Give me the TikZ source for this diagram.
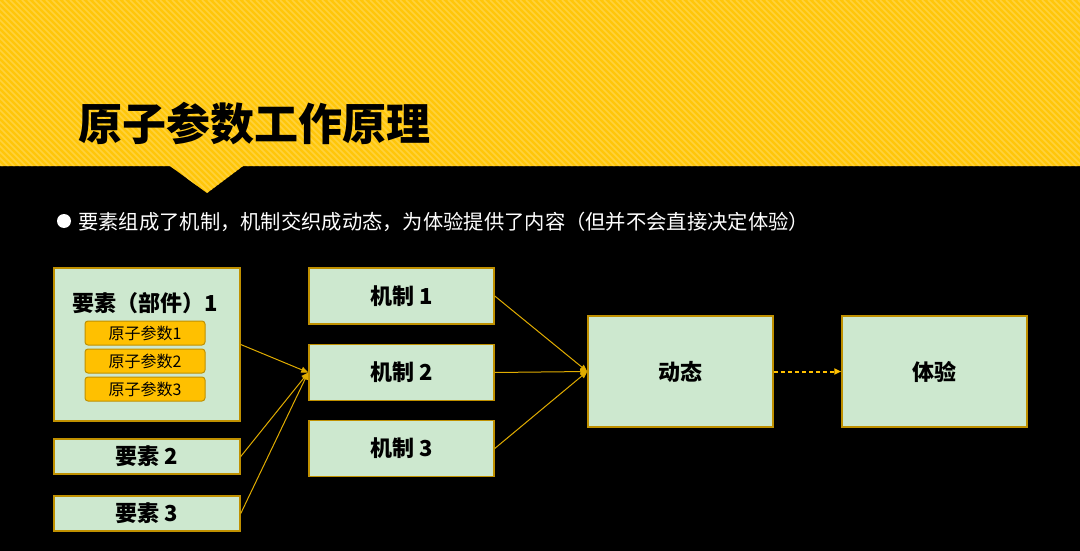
\documentclass[tikz,border=0pt]{standalone}
\usepackage{fontspec}
\setmainfont{Noto Sans CJK SC}
\usetikzlibrary{arrows.meta}
\definecolor{bandyellow}{HTML}{FFC60A}
\definecolor{stripeyellow}{HTML}{FFD23C}
\definecolor{boxgreen}{HTML}{CDE8CF}
\definecolor{boxedge}{HTML}{BF9000}
\definecolor{parafill}{HTML}{FFC000}
\definecolor{arrowgold}{HTML}{E0AC00}
\tikzset{
  block/.style={draw=boxedge,line width=1.5pt,fill=boxgreen,font=\bfseries\fontsize{22}{22}\selectfont,text=black},
  param/.style={draw=boxedge,line width=1pt,fill=parafill,rounded corners=3pt,minimum width=120pt,minimum height=24pt,font=\fontsize{16}{16}\selectfont,text=black},
  link/.style={draw=arrowgold,line width=1pt,-{Triangle[length=7pt,width=6pt]}}
}
\begin{document}
\begin{tikzpicture}[x=1pt,y=-1pt]
  \useasboundingbox (0,0) rectangle (1080,551);
  \fill[black] (0,0) rectangle (1080,551);
  % header band with notch
  \fill[bandyellow] (0,0) -- (1080,0) -- (1080,166) -- (243,166) -- (207,193) -- (170,166) -- (0,166) -- cycle;
  \begin{scope}
    \clip (0,0) -- (1080,0) -- (1080,166) -- (243,166) -- (207,193) -- (170,166) -- (0,166) -- cycle;
    \foreach \s in {-200,-194,...,1080}
      \draw[stripeyellow,line width=1.6pt] (\s,0) -- (\s+200,200);
  \end{scope}
  \node[anchor=west,inner sep=0pt,font=\bfseries\fontsize{44}{44}\selectfont] (title) at (78,124) {原子参数工作原理};
  % bullet line
  \fill[white] (64,221) circle (7);
  \node[anchor=west,inner sep=0pt,text=white,font=\fontsize{20.3}{21}\selectfont] (intro) at (78,222) {要素组成了机制，机制交织成动态，为体验提供了内容（但并不会直接决定体验）};
  % elements
  \node[block,minimum width=186pt,minimum height=153pt] (e1) at (147,344.5) {};
  \node[inner sep=0pt,font=\bfseries\fontsize{22}{22}\selectfont] (e1t) at (145,303) {要素（部件）1};
  \node[param] (p1) at (145,333) {原子参数1};
  \node[param] (p2) at (145,361) {原子参数2};
  \node[param] (p3) at (145,389) {原子参数3};
  \node[block,minimum width=186pt,minimum height=35pt] (e2) at (147,456.5) {要素 2};
  \node[block,minimum width=186pt,minimum height=35pt] (e3) at (147,513.5) {要素 3};
  % mechanisms
  \node[block,minimum width=185pt,minimum height=56pt] (m1) at (401.5,296) {机制 1};
  \node[block,minimum width=185pt,minimum height=56pt] (m2) at (401.5,372.5) {机制 2};
  \node[block,minimum width=185pt,minimum height=56pt] (m3) at (401.5,448.5) {机制 3};
  % dynamics and experience
  \node[block,minimum width=185pt,minimum height=111pt] (dt) at (680.5,371.5) {动态};
  \node[block,minimum width=185pt,minimum height=111pt] (ty) at (934.5,371.5) {体验};
  \foreach \from/\to in {e1/m2,e2/m2,e3/m2,m1/dt,m2/dt,m3/dt}
    \draw[link] (\from.east) -- (\to.west);
  \draw[link,line width=2pt,dash pattern=on 4pt off 3pt,draw=parafill] (dt.east) -- (ty.west);
\end{tikzpicture}
\end{document}
